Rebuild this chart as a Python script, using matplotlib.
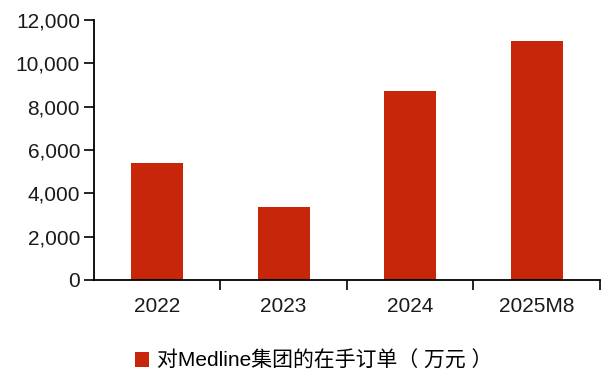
import matplotlib.pyplot as plt
import numpy as np
from matplotlib.ticker import FuncFormatter

plt.rcParams['font.family'] = ['Liberation Sans', 'Noto Sans CJK SC', 'DejaVu Sans']

# 在手订单数据
categories = ['2022', '2023', '2024', '2025M8']
orders = [5400, 3350, 8740, 11050]
series_name = '对Medline集团的在手订单（ 万元 ）'

bar_color = '#C8260A'

fig = plt.figure(figsize=(6.06, 3.69), dpi=100)
ax = fig.add_axes([0.155, 0.2412, 0.835, 0.7046])

x = np.arange(len(categories))
ax.bar(x, orders, width=0.41, color=bar_color, label=series_name, zorder=2)

ax.set_xlim(-0.5, len(categories) - 0.5)
ax.set_ylim(0, 12000)
ax.set_yticks(np.arange(0, 12001, 2000))
ax.yaxis.set_major_formatter(FuncFormatter(lambda v, p: f'{int(v):,}'))

# 类别刻度放在分组边界
ax.set_xticks(x)
ax.set_xticklabels(categories)
ax.set_xticks(np.arange(0.5, len(categories), 1), minor=True)
ax.tick_params(axis='x', which='major', length=0, pad=12, labelsize=15, colors='#1a1a1a')
ax.tick_params(axis='x', which='minor', length=7, width=1.2, direction='out')
ax.tick_params(axis='y', length=7, width=1.2, direction='out', pad=3, labelsize=15, colors='#1a1a1a')
ax.tick_params(axis='both', color='black')

for s in ['top', 'right']:
    ax.spines[s].set_visible(False)
for s in ['left', 'bottom']:
    ax.spines[s].set_linewidth(1.3)

fig.legend(loc='lower center', bbox_to_anchor=(0.517, -0.055), frameon=False,
           fontsize=15, handlelength=0.7, handleheight=0.7, handletextpad=0.35)

fig.savefig('out.png', dpi=100)
